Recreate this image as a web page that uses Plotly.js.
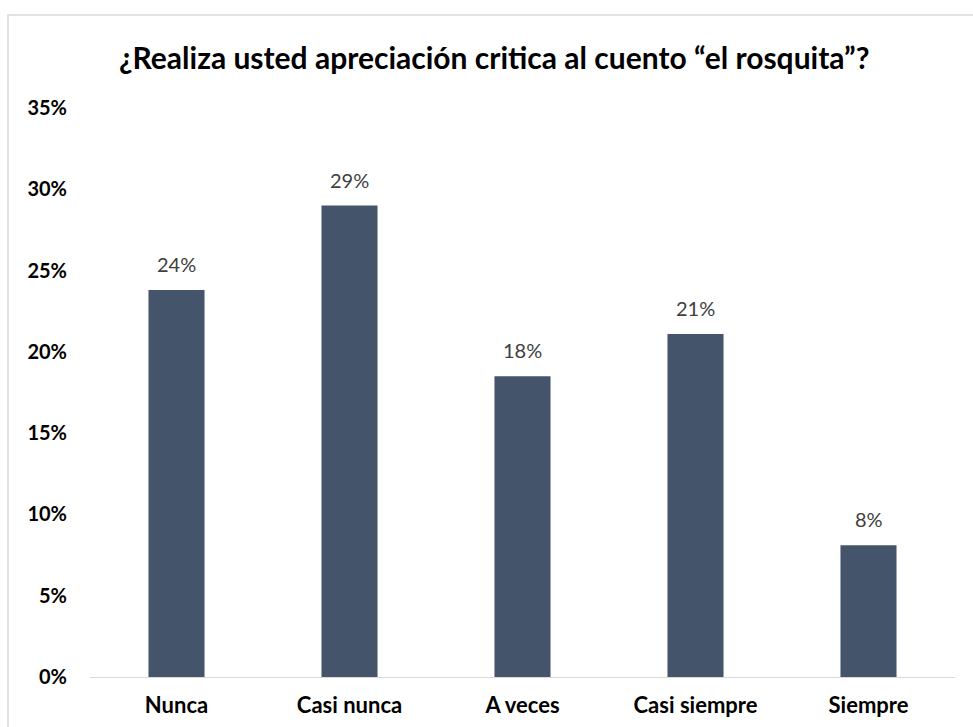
<!DOCTYPE html>
<html>
<head>
<meta charset="utf-8">
<script src="https://cdn.plot.ly/plotly-3.0.1.min.js"></script>
<style>
  html, body { margin: 0; padding: 0; background: #ffffff; }
  #chart { width: 973px; height: 727px; }
</style>
</head>
<body>
<div id="chart"></div>
<script>
const categories = ["Nunca", "Casi nunca", "A veces", "Casi siempre", "Siempre"];
const values = [0.238, 0.290, 0.185, 0.211, 0.081];
const labels = ["24%", "29%", "18%", "21%", "8%"];
const yTickVals = [0, 0.05, 0.10, 0.15, 0.20, 0.25, 0.30, 0.35];
const yTickText = ["0%", "5%", "10%", "15%", "20%", "25%", "30%", "35%"];
const titleText = "¿Realiza usted apreciación critica al cuento “el rosquita”?";

const FONT = "Lato, 'Open Sans', sans-serif";

const trace = {
  type: "bar",
  x: categories,
  y: values,
  marker: { color: "#44546A" },
  hoverinfo: "x+y",
  cliponaxis: false
};

const annotations = categories.map((c, i) => ({
  x: c,
  y: values[i],
  xref: "x",
  yref: "y",
  text: labels[i],
  showarrow: false,
  yanchor: "bottom",
  yshift: 12,
  font: { family: FONT, size: 20, color: "#404040" }
}));

const layout = {
  width: 973,
  height: 727,
  margin: { l: 90, r: 18, t: 108, b: 50 },
  paper_bgcolor: "#ffffff",
  plot_bgcolor: "#ffffff",
  showlegend: false,
  bargap: 0.676,
  title: {
    text: "<b>" + titleText + "</b>",
    font: { family: FONT, size: 30, color: "#000000" },
    x: 0.508,
    xanchor: "center",
    y: 1 - 58 / 727,
    yanchor: "middle",
    xref: "container",
    yref: "container"
  },
  xaxis: {
    type: "category",
    showgrid: false,
    zeroline: false,
    showline: true,
    linecolor: "#d9d9d9",
    linewidth: 1,
    ticks: "",
    tickfont: { family: FONT, size: 22, color: "#000000", weight: "bold" },
    ticklabelstandoff: 9
  },
  yaxis: {
    range: [0, 0.35],
    showgrid: false,
    zeroline: false,
    showline: false,
    ticks: "",
    tickmode: "array",
    tickvals: yTickVals,
    ticktext: yTickText,
    tickfont: { family: FONT, size: 20, color: "#000000", weight: "bold" },
    ticklabelstandoff: 22
  },
  annotations: annotations,
  shapes: [{
    type: "rect",
    xref: "paper",
    yref: "paper",
    x0: (8 - 90) / 865,
    x1: (990 - 90) / 865,
    y0: (677 - 740) / 569,
    y1: (677 - 15) / 569,
    line: { color: "#d9d9d9", width: 1.5 },
    fillcolor: "rgba(0,0,0,0)",
    layer: "below"
  }]
};

Plotly.newPlot("chart", [trace], layout, { displayModeBar: false, staticPlot: true });
</script>
</body>
</html>
